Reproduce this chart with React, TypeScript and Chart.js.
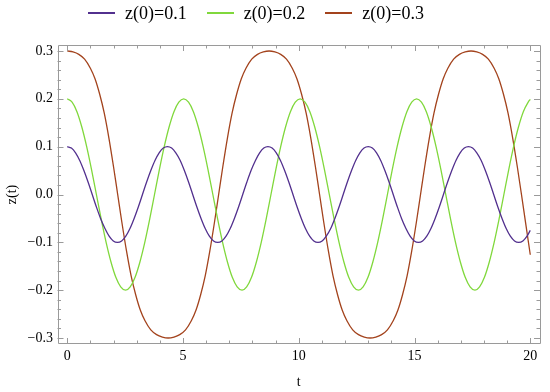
import React, { useEffect, useRef } from 'react';
import { Chart, registerables } from 'chart.js';

Chart.register(...registerables);

// ---- data ----
const seriesNames = ['z(0)=0.1', 'z(0)=0.2', 'z(0)=0.3'];
const seriesColors = ['#52308E', '#80D83C', '#A3431D'];

const purpleT = [0, 0.18, 0.36, 0.54, 0.72, 0.9, 1.08, 1.26, 1.44, 1.63, 1.81, 1.99,
  2.17, 2.35, 2.53, 2.71, 2.89, 3.07, 3.25, 3.43, 3.61, 3.79, 3.97, 4.15,
  4.33, 4.51, 4.69, 4.88, 5.06, 5.24, 5.42, 5.6, 5.78, 5.96, 6.14, 6.32,
  6.5, 6.68, 6.86, 7.04, 7.22, 7.4, 7.58, 7.76, 7.94, 8.13, 8.31, 8.49,
  8.67, 8.85, 9.03, 9.21, 9.39, 9.57, 9.75, 9.93, 10.11, 10.29, 10.47, 10.65,
  10.83, 11.01, 11.19, 11.38, 11.56, 11.74, 11.92, 12.1, 12.28, 12.46, 12.64, 12.82,
  13.0, 13.18, 13.36, 13.54, 13.72, 13.9, 14.08, 14.26, 14.44, 14.63, 14.81, 14.99,
  15.17, 15.35, 15.53, 15.71, 15.89, 16.07, 16.25, 16.43, 16.61, 16.79, 16.97, 17.15,
  17.33, 17.51, 17.69, 17.88, 18.06, 18.24, 18.42, 18.6, 18.78, 18.96, 19.14, 19.32,
  19.5, 19.68, 19.86, 20.0];
const purpleZ = [0.1, 0.097, 0.087, 0.071, 0.05, 0.026, 0, -0.026, -0.05, -0.071, -0.087, -0.097,
  -0.1, -0.097, -0.087, -0.071, -0.05, -0.026, 0, 0.026, 0.05, 0.071, 0.087, 0.097,
  0.1, 0.097, 0.087, 0.071, 0.05, 0.026, 0, -0.026, -0.05, -0.071, -0.087, -0.097,
  -0.1, -0.097, -0.087, -0.071, -0.05, -0.026, 0, 0.026, 0.05, 0.071, 0.087, 0.097,
  0.1, 0.097, 0.087, 0.071, 0.05, 0.026, 0, -0.026, -0.05, -0.071, -0.087, -0.097,
  -0.1, -0.097, -0.087, -0.071, -0.05, -0.026, 0, 0.026, 0.05, 0.071, 0.087, 0.097,
  0.1, 0.097, 0.087, 0.071, 0.05, 0.026, 0, -0.026, -0.05, -0.071, -0.087, -0.097,
  -0.1, -0.097, -0.087, -0.071, -0.05, -0.026, 0, 0.026, 0.05, 0.071, 0.087, 0.097,
  0.1, 0.097, 0.087, 0.071, 0.05, 0.026, 0, -0.026, -0.05, -0.071, -0.087, -0.097,
  -0.1, -0.097, -0.087, -0.075];

const greenT = [0, 0.21, 0.42, 0.63, 0.84, 1.05, 1.26, 1.47, 1.68, 1.89, 2.1, 2.31,
  2.52, 2.72, 2.93, 3.14, 3.35, 3.56, 3.77, 3.98, 4.19, 4.4, 4.61, 4.82,
  5.03, 5.24, 5.45, 5.66, 5.87, 6.08, 6.29, 6.5, 6.71, 6.92, 7.13, 7.34,
  7.55, 7.75, 7.96, 8.17, 8.38, 8.59, 8.8, 9.01, 9.22, 9.43, 9.64, 9.85,
  10.06, 10.27, 10.48, 10.69, 10.9, 11.11, 11.32, 11.53, 11.74, 11.95, 12.16, 12.37,
  12.58, 12.78, 12.99, 13.2, 13.41, 13.62, 13.83, 14.04, 14.25, 14.46, 14.67, 14.88,
  15.09, 15.3, 15.51, 15.72, 15.93, 16.14, 16.35, 16.56, 16.77, 16.98, 17.19, 17.4,
  17.61, 17.81, 18.02, 18.23, 18.44, 18.65, 18.86, 19.07, 19.28, 19.49, 19.7, 19.91, 20.0];
const greenZ = [0.2, 0.193, 0.173, 0.141, 0.1, 0.052, 0, -0.052, -0.1, -0.141, -0.173, -0.193,
  -0.2, -0.193, -0.173, -0.141, -0.1, -0.052, 0, 0.052, 0.1, 0.141, 0.173, 0.193,
  0.2, 0.193, 0.173, 0.141, 0.1, 0.052, 0, -0.052, -0.1, -0.141, -0.173, -0.193,
  -0.2, -0.193, -0.173, -0.141, -0.1, -0.052, 0, 0.052, 0.1, 0.141, 0.173, 0.193,
  0.2, 0.193, 0.173, 0.141, 0.1, 0.052, 0, -0.052, -0.1, -0.141, -0.173, -0.193,
  -0.2, -0.193, -0.173, -0.141, -0.1, -0.052, 0, 0.052, 0.1, 0.141, 0.173, 0.193,
  0.2, 0.193, 0.173, 0.141, 0.1, 0.052, 0, -0.052, -0.1, -0.141, -0.173, -0.193,
  -0.2, -0.193, -0.173, -0.141, -0.1, -0.052, 0, 0.052, 0.1, 0.141, 0.173, 0.193, 0.199];

const redT = [0, 0.25, 0.5, 0.75, 1.0, 1.2, 1.4, 1.6, 1.8, 2.0, 2.18, 2.36, 2.56, 2.76, 2.96, 3.16, 3.36, 3.61, 3.86, 4.11, 4.36,
  4.61, 4.86, 5.11, 5.36, 5.56, 5.76, 5.96, 6.16, 6.36, 6.54, 6.72, 6.92, 7.12, 7.32, 7.52, 7.72, 7.97, 8.22, 8.47, 8.72,
  8.97, 9.22, 9.47, 9.72, 9.92, 10.12, 10.32, 10.52, 10.72, 10.9, 11.08, 11.28, 11.48, 11.68, 11.88, 12.08, 12.33, 12.58, 12.83, 13.08,
  13.33, 13.58, 13.83, 14.08, 14.28, 14.48, 14.68, 14.88, 15.08, 15.26, 15.44, 15.64, 15.84, 16.04, 16.24, 16.44, 16.69, 16.94, 17.19, 17.44,
  17.69, 17.94, 18.19, 18.44, 18.64, 18.84, 19.04, 19.24, 19.44, 19.62, 19.8, 20.0];
const redZ = [0.3, 0.298, 0.293, 0.283, 0.264, 0.242, 0.21, 0.17, 0.118, 0.058, 0, -0.058, -0.118, -0.17, -0.21, -0.242, -0.264, -0.283, -0.293, -0.298, -0.3,
  -0.298, -0.293, -0.283, -0.264, -0.242, -0.21, -0.17, -0.118, -0.058, 0, 0.058, 0.118, 0.17, 0.21, 0.242, 0.264, 0.283, 0.293, 0.298, 0.3,
  0.298, 0.293, 0.283, 0.264, 0.242, 0.21, 0.17, 0.118, 0.058, 0, -0.058, -0.118, -0.17, -0.21, -0.242, -0.264, -0.283, -0.293, -0.298, -0.3,
  -0.298, -0.293, -0.283, -0.264, -0.242, -0.21, -0.17, -0.118, -0.058, 0, 0.058, 0.118, 0.17, 0.21, 0.242, 0.264, 0.283, 0.293, 0.298, 0.3,
  0.298, 0.293, 0.283, 0.264, 0.242, 0.21, 0.17, 0.118, 0.058, 0, -0.06, -0.126];

const xTickValues = [0, 5, 10, 15, 20];
const xTickLabels = ['0', '5', '10', '15', '20'];
const yTickValues = [-0.3, -0.2, -0.1, 0, 0.1, 0.2, 0.3];
const yTickLabels = ['\u22120.3', '\u22120.2', '\u22120.1', '0.0', '0.1', '0.2', '0.3'];

const seriesT = [purpleT, greenT, redT];
const seriesZ = [purpleZ, greenZ, redZ];

const FONT = '"Liberation Serif", "Times New Roman", serif';
const FRAME = '#9a9a9a';

const framePlugin = {
  id: 'frameTicks',
  afterDatasetsDraw(chart: any) {
    const { ctx, chartArea, scales } = chart;
    const { left, right, top, bottom } = chartArea;
    const xs = scales.x;
    const ys = scales.y;
    ctx.save();
    ctx.strokeStyle = FRAME;
    ctx.lineWidth = 1;
    ctx.beginPath();
    ctx.rect(Math.round(left) + 0.5, Math.round(top) + 0.5, Math.round(right - left) - 1, Math.round(bottom - top) - 1);
    ctx.stroke();
    ctx.beginPath();
    for (let i = 0; i <= 20; i++) {
      const px = Math.round(xs.getPixelForValue(i)) + 0.5;
      const len = i % 5 === 0 ? 6 : 3.5;
      ctx.moveTo(px, bottom);
      ctx.lineTo(px, bottom - len);
      ctx.moveTo(px, top);
      ctx.lineTo(px, top + len);
    }
    for (let i = -15; i <= 15; i++) {
      const py = Math.round(ys.getPixelForValue(i * 0.02)) + 0.5;
      const len = i % 5 === 0 ? 6 : 3.5;
      ctx.moveTo(left, py);
      ctx.lineTo(left + len, py);
      ctx.moveTo(right, py);
      ctx.lineTo(right - len, py);
    }
    ctx.stroke();
    ctx.restore();
  },
};

export default function App() {
  const ref = useRef<HTMLCanvasElement>(null);

  useEffect(() => {
    const datasets = seriesNames.map((name, s) => ({
      label: name,
      data: seriesT[s].map((t, i) => ({ x: t, y: seriesZ[s][i] })),
      borderColor: seriesColors[s],
      backgroundColor: seriesColors[s],
      borderWidth: 1.3,
      pointRadius: 0,
      fill: false,
      cubicInterpolationMode: 'monotone' as const,
    }));
    const chart = new Chart(ref.current!, {
      type: 'line',
      data: { datasets },
      options: {
        animation: false,
        responsive: false,
        devicePixelRatio: 1,
        layout: { padding: { top: 45, right: 10, left: 0, bottom: 0 } },
        plugins: { legend: { display: false }, tooltip: { enabled: false } },
        scales: {
          x: {
            type: 'linear',
            min: -0.42,
            max: 20.42,
            afterBuildTicks: (s: any) => { s.ticks = xTickValues.map((v) => ({ value: v })); },
            afterFit: (s: any) => { s.height = 48; },
            ticks: {
              callback: (_v: any, i: number) => xTickLabels[i],
              font: { family: FONT, size: 14 },
              color: '#000',
              padding: 4,
              maxRotation: 0,
              autoSkip: false,
            },
            grid: { display: false, drawTicks: false },
            border: { display: false },
            title: { display: true, text: 't', font: { family: FONT, size: 14 }, color: '#000', padding: { top: 0, bottom: 1.6 } },
          },
          y: {
            type: 'linear',
            min: -0.3125,
            max: 0.3125,
            afterBuildTicks: (s: any) => { s.ticks = yTickValues.map((v) => ({ value: v })); },
            afterFit: (s: any) => { s.width = 57.5; },
            ticks: {
              callback: (_v: any, i: number) => yTickLabels[i],
              font: { family: FONT, size: 14 },
              color: '#000',
              padding: 4.5,
              autoSkip: false,
            },
            grid: { display: false, drawTicks: false },
            border: { display: false },
            title: { display: true, text: 'z(t)', font: { family: FONT, size: 14 }, color: '#000', padding: { top: 3.6, bottom: 0 } },
          },
        },
      },
      plugins: [framePlugin],
    });
    return () => chart.destroy();
  }, []);

  return (
    <div style={{ position: 'absolute', left: 0, top: 0, width: 550, height: 392, background: '#fff' }}>
      <canvas ref={ref} width={550} height={392} style={{ position: 'absolute', left: 0, top: 0 }} />
      <div
        style={{
          position: 'absolute', left: 88, top: 0, height: 26, display: 'flex', alignItems: 'center',
          fontFamily: FONT, fontSize: 18, whiteSpace: 'nowrap', color: '#000',
        }}
      >
        {seriesNames.map((name, i) => (
          <div key={name} style={{ display: 'flex', alignItems: 'center', marginRight: 20 }}>
            <div style={{ width: 27, height: 1.5, backgroundColor: seriesColors[i], marginRight: 10 }} />
            <span>{name}</span>
          </div>
        ))}
      </div>
    </div>
  );
}
